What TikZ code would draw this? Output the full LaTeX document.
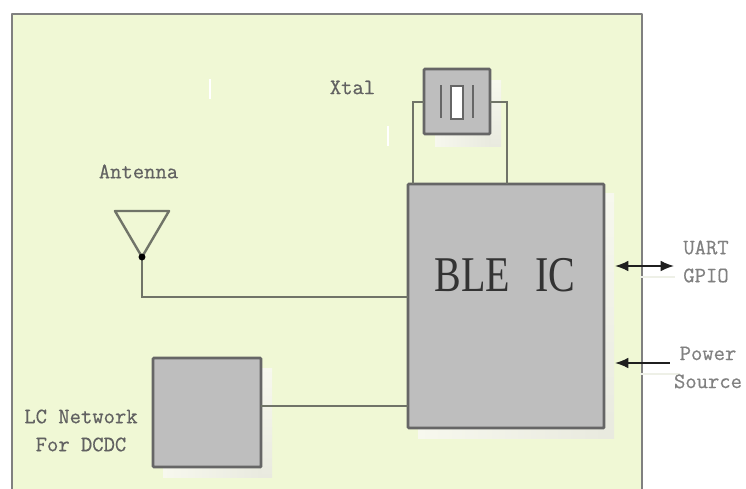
\documentclass[tikz,border=0pt]{standalone}
\usepackage{fontspec}
\setmainfont{Liberation Serif}
\setmonofont[FakeBold=0.5]{Latin Modern Mono}
\usetikzlibrary{arrows.meta}
\definecolor{panel}{HTML}{F0F8D5}
\definecolor{boxfill}{HTML}{BEBEBE}
\definecolor{edge}{HTML}{666666}
\definecolor{wire}{HTML}{707468}
\definecolor{shadelo}{HTML}{F7F8EE}
\definecolor{shadehi}{HTML}{E9EADF}
\tikzset{
  x=0.75pt,y=-0.75pt,
  blockbox/.style={draw=edge,fill=boxfill,line width=1.9pt,rounded corners=0.6pt,inner sep=0pt,outer sep=0pt},
  wireline/.style={draw=wire,line width=1.8pt},
  monolabel/.style={font=\ttfamily\fontsize{16.5}{21}\selectfont,text=#1,inner sep=0pt,align=center},
  monolabel/.default={black!62},
  ioarrow/.style={draw=black!88,line width=1.2pt,{Latex[length=10pt,width=8pt]}-},
  ioboth/.style={draw=black!88,line width=1.2pt,{Latex[length=10pt,width=8pt]}-{Latex[length=10pt,width=8pt]}},
  palemark/.style={draw=white,line width=0.9pt},
  paleio/.style={draw=panel!70!gray!35,line width=0.9pt},
}
\begin{document}
\begin{tikzpicture}
\useasboundingbox (0,0) rectangle (746,489);
\fill[white] (0,0) rectangle (746,489);
% panel
\fill[panel] (12,14) rectangle (642,489);
\draw[draw=black!50,line width=1.8pt,line join=round] (12,489) -- (12,14) -- (642,14) -- (642,489);
% stray pale marks
\draw[palemark] (210,79) -- (210,99);
\draw[palemark] (388,126) -- (388,146);
% shadows
\shade[top color=shadelo,bottom color=shadehi] (604,193) rectangle (614,438);
\shade[left color=shadelo,right color=shadehi] (418,428) rectangle (604,438);
\shade[top color=shadelo,bottom color=shadehi] (490,80) rectangle (501,146);
\shade[left color=shadelo,right color=shadehi] (435,134) rectangle (490,146);
\shade[top color=shadelo,bottom color=shadehi] (261,368) rectangle (272,477);
\shade[left color=shadelo,right color=shadehi] (163,467) rectangle (261,477);
% blocks
\node[blockbox,minimum width=147pt,minimum height=183pt] (ble) at (506,306) {};
\node[blockbox,minimum width=49.5pt,minimum height=48.75pt] (xtal) at (457,101.5) {};
\node[blockbox,minimum width=81pt,minimum height=81.75pt] (lc) at (207,412.5) {};
% crystal symbol
\node[draw=edge,fill=white,line width=1.5pt,minimum width=8.5pt,minimum height=24.5pt,inner sep=0pt,outer sep=0pt] (xcore) at (457,102.5) {};
\coordinate (xla) at (441,85); \coordinate (xlb) at (441,118);
\coordinate (xra) at (473,85); \coordinate (xrb) at (473,118);
\draw[draw=edge,line width=1.5pt] (xla) -- (xlb);
\draw[draw=edge,line width=1.5pt] (xra) -- (xrb);
% crystal wires
\coordinate (bxl) at (413,184);
\coordinate (bxr) at (507,184);
\coordinate (xlw) at (424,102);
\coordinate (xrw) at (490,102);
\draw[wireline] (xlw) -| (bxl);
\draw[wireline] (xrw) -| (bxr);
% antenna
\coordinate (anta) at (115,211);
\coordinate (antb) at (169,211);
\coordinate (feed) at (142,257);
\coordinate (blea) at (408,297);
\draw[wireline,line join=round] (anta) -- (antb) -- (feed) -- cycle;
\draw[wireline] (feed) |- (blea);
\node[circle,fill=black,minimum size=5.2pt,inner sep=0pt,outer sep=0pt] (feeddot) at (feed) {};
% LC to BLE
\coordinate (blec) at (408,406);
\coordinate (lcw) at (261,406);
\draw[wireline] (lcw) -- (blec);
% IO arrows
\coordinate (ua) at (615,266); \coordinate (ub) at (674,266);
\coordinate (pa) at (615,363); \coordinate (pb) at (670,363);
\draw[paleio] (640,277) -- (675,277);
\draw[paleio] (640,374) -- (680,374);
\draw[ioboth] (ua) -- (ub);
\draw[ioarrow] (pa) -- (pb);
% labels
\node[inner sep=0pt,text=black!80] (bletext) at (505,275)
  {\scalebox{0.8}[1]{\fontsize{37.5}{40}\selectfont BLE\hspace{0.62em}IC}};
\node[monolabel] (xtaltext) at (352.5,87.5) {Xtal};
\node[monolabel] (anttext) at (138.5,171.5) {Antenna};
\node[monolabel] (lctext) at (81,430.5) {LC Network\\For DCDC};
\node[monolabel={black!50}] (uarttext) at (706,261.5) {UART\\GPIO};
\node[monolabel={black!50}] (powertext) at (708,367.5) {Power\\Source};
\end{tikzpicture}
\end{document}
